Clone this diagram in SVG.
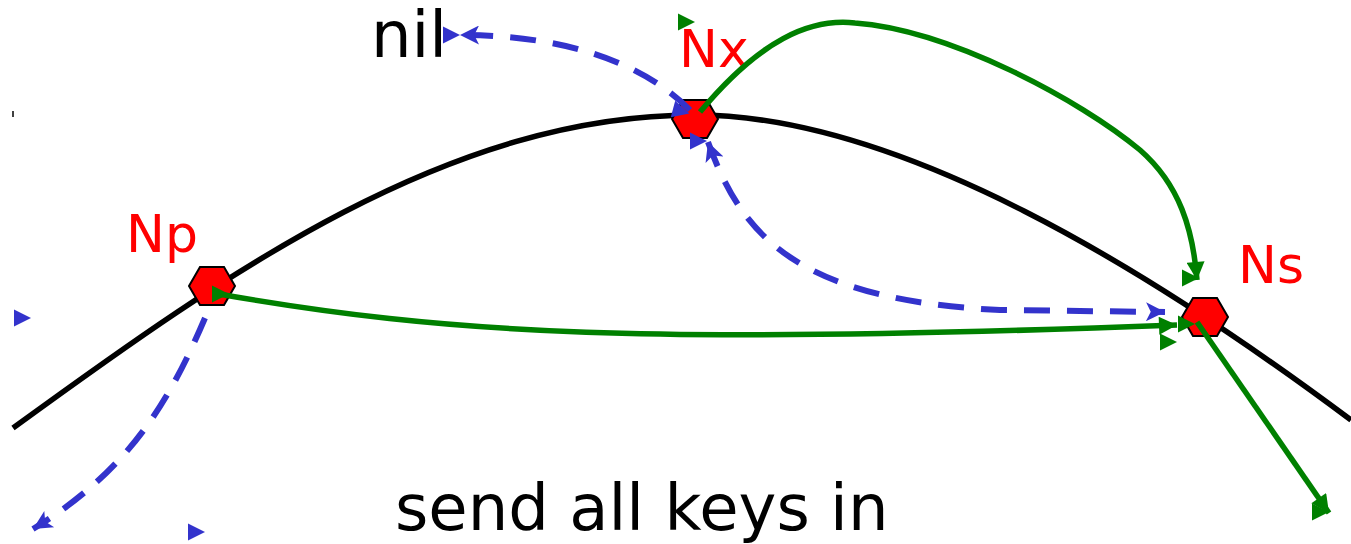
<svg xmlns="http://www.w3.org/2000/svg" width="1351" height="544" viewBox="0 0 1351 544">
  <style>
    .curve{fill:none;stroke:#000;stroke-width:5.5}
    .blue{fill:none;stroke:#3333cc;stroke-width:6;stroke-dasharray:26 17}
    .green{fill:none;stroke:#008000;stroke-width:5.5}
    .hex{fill:#ff0000;stroke:#000;stroke-width:2}
    .lbl{font-family:"DejaVu Sans",sans-serif;font-size:52px;fill:#ff0000}
    .txt{font-family:"DejaVu Sans",sans-serif;font-size:64px;fill:#000}
    .tb{fill:#3333cc}
    .tg{fill:#008000}
  </style>
  <defs>
    <marker id="ab" viewBox="0 0 10 10" refX="10" refY="5" markerWidth="22" markerHeight="19" markerUnits="userSpaceOnUse" orient="auto">
      <path d="M0,0 L10,5 L0,10 L2.5,5 z" fill="#3333cc"/>
    </marker>
    <marker id="abs" viewBox="0 0 10 10" refX="10" refY="5" markerWidth="22" markerHeight="19" markerUnits="userSpaceOnUse" orient="auto-start-reverse">
      <path d="M0,0 L10,5 L0,10 L2.5,5 z" fill="#3333cc"/>
    </marker>
    <marker id="ag" viewBox="0 0 10 10" refX="10" refY="5" markerWidth="20" markerHeight="18" markerUnits="userSpaceOnUse" orient="auto">
      <path d="M0,0 L10,5 L0,10 z" fill="#008000"/>
    </marker>
    <polygon id="tri" points="0,-8.5 17,0 0,8.5"/>
    <polygon id="hexshape" points="-23,0 -12,-19 12,-19 23,0 12,19 -12,19"/>
  </defs>

  <path class="curve" d="M13,428 C230,270 450,115 695,115 C900,115 1150,270 1351,420"/>
  <line x1="13" y1="111" x2="13" y2="117" stroke="#000" stroke-width="1.5"/>

  <g id="node-Nx">
    <use href="#hexshape" class="hex" x="695" y="119"/>
    <text class="lbl" x="679" y="67">Nx</text>
  </g>
  <g id="node-Np">
    <use href="#hexshape" class="hex" x="212" y="286"/>
    <text class="lbl" x="126" y="252">Np</text>
  </g>
  <g id="node-Ns">
    <use href="#hexshape" class="hex" x="1205" y="317"/>
    <text class="lbl" x="1238" y="283">Ns</text>
  </g>
  <g id="node-nil">
    <text class="txt" x="371" y="57">nil</text>
  </g>
  <g id="caption">
    <text class="txt" x="395" y="530">send all keys in</text>
  </g>

  <g id="connectors">
    <path class="blue" d="M690,110 C640,60 560,35 460,35" marker-end="url(#ab)"/>
    <path class="blue" d="M708,142 C740,230 790,300 1000,310 L1165,312" marker-start="url(#abs)" marker-end="url(#ab)"/>
    <path class="blue" d="M205,318 C170,400 130,470 33,529" marker-end="url(#ab)"/>
    <path class="green" d="M700,112 C760,40 810,18 855,23 C950,30 1080,100 1140,150 C1180,185 1193,230 1197,280" marker-end="url(#ag)"/>
    <path class="green" d="M213,293 C450,335 650,345 1177,325" marker-end="url(#ag)"/>
    <path class="green" d="M1197,322 L1329,513" marker-end="url(#ag)"/>
  </g>

  <g id="stray-markers">
    <use href="#tri" class="tb" x="14" y="318"/>
    <use href="#tri" class="tb" x="188" y="532"/>
    <use href="#tri" class="tb" x="443" y="35"/>
    <use href="#tri" class="tb" transform="translate(673,109) rotate(15)"/>
    <use href="#tri" class="tb" x="690" y="141"/>
    <use href="#tri" class="tg" x="678" y="22"/>
    <use href="#tri" class="tg" x="212" y="294"/>
    <use href="#tri" class="tg" x="1182" y="278"/>
    <use href="#tri" class="tg" x="1160" y="342"/>
    <use href="#tri" class="tg" x="1178" y="324"/>
    <use href="#tri" class="tg" x="1312" y="512"/>
  </g>
</svg>
